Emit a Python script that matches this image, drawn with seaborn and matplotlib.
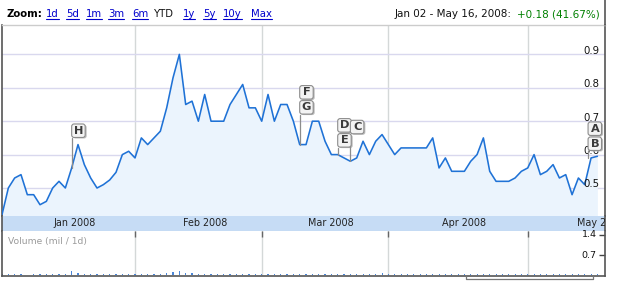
import matplotlib
matplotlib.use("Agg")
import matplotlib.pyplot as plt
import matplotlib.transforms as mtrans
from matplotlib.patches import FancyBboxPatch
from matplotlib.lines import Line2D
import numpy as np
import pandas as pd
import seaborn as sns

# ---------------- data (daily closes, trading days Jan 02 - May 16, 2008) ----------------
close_jan = [0.42, 0.50, 0.53, 0.54, 0.48, 0.48, 0.45, 0.46, 0.50, 0.52, 0.50,
             0.56, 0.63, 0.57, 0.53, 0.50, 0.51, 0.524, 0.547, 0.60, 0.61]
close_feb = [0.59, 0.65, 0.63, 0.65, 0.67, 0.74, 0.83, 0.90, 0.75, 0.76,
             0.70, 0.78, 0.70, 0.70, 0.70, 0.75, 0.78, 0.81, 0.74, 0.74]
close_mar = [0.70, 0.78, 0.70, 0.75, 0.75, 0.70, 0.63, 0.63, 0.70, 0.70,
             0.64, 0.60, 0.60, 0.59, 0.58, 0.59, 0.64, 0.60, 0.64, 0.66]
close_apr = [0.63, 0.60, 0.62, 0.62, 0.62, 0.62, 0.62, 0.65, 0.56, 0.59, 0.55,
             0.55, 0.55, 0.58, 0.60, 0.65, 0.55, 0.52, 0.52, 0.52, 0.53, 0.55]
close_may = [0.56, 0.60, 0.54, 0.55, 0.57, 0.53, 0.54, 0.48, 0.53, 0.51, 0.59, 0.595]

vol_jan = [0.05, 0.04, 0.05, 0.04, 0.03, 0.05, 0.04, 0.04, 0.05, 0.06, 0.05,
           0.15, 0.09, 0.05, 0.04, 0.04, 0.05, 0.04, 0.05, 0.06, 0.05]
vol_feb = [0.04, 0.05, 0.04, 0.05, 0.06, 0.10, 0.12, 0.14, 0.09, 0.08,
           0.05, 0.04, 0.04, 0.04, 0.04, 0.05, 0.04, 0.04, 0.04, 0.04]
vol_mar = [0.04, 0.04, 0.04, 0.04, 0.04, 0.04, 0.05, 0.04, 0.04, 0.04,
           0.04, 0.06, 0.04, 0.05, 0.04, 0.04, 0.04, 0.04, 0.04, 0.07]
vol_apr = [0.04, 0.04, 0.04, 0.04, 0.04, 0.04, 0.04, 0.05, 0.04, 0.04, 0.04,
           0.04, 0.04, 0.04, 0.04, 0.05, 0.04, 0.04, 0.04, 0.04, 0.04, 0.04]
vol_may = [0.04, 0.04, 0.04, 0.04, 0.05, 0.04, 0.04, 0.04, 0.04, 0.04, 0.04, 0.05]

month_labels = ["Jan 2008", "Feb 2008", "Mar 2008", "Apr 2008", "May 2008"]
month_full_days = [21, 20, 20, 22, 21]

price_ticks = [0.5, 0.6, 0.7, 0.8, 0.9]
volume_ticks = [0.7, 1.4]

flag_letters = [["H"], ["F", "G"], ["D", "E"], ["C"], ["A", "B"]]
flag_day = [11, 47, 53, 55, 93]

zoom_links = ["1d", "5d", "1m", "3m", "6m", "YTD", "1y", "5y", "10y", "Max"]
range_text = "Jan 02 - May 16, 2008:"
change_text = "+0.18 (41.67%)"

# ---------------- styling ----------------
sns.set_style("white")
plt.rcParams['font.family'] = ['DejaVu Sans']

LINE = "#1f72d6"
FILL = "#ebf4fd"
HGRID = "#d9d8ee"
VGRID = "#d4d8d8"
BAND = "#c6dcf5"
DARK = "#555555"

W, H = 630, 300
fig = plt.figure(figsize=(6.3, 3.0), dpi=100)
fig.patch.set_facecolor("white")


def fbox(x0, y0, x1, y1):
    return [x0 / W, 1 - y1 / H, (x1 - x0) / W, (y1 - y0) / H]


ax = fig.add_axes(fbox(2, 25, 605, 216))
band = fig.add_axes(fbox(2, 216, 605, 231))
axv = fig.add_axes(fbox(2, 231, 605, 276))

close = close_jan + close_feb + close_mar + close_apr + close_may
volume = vol_jan + vol_feb + vol_mar + vol_apr + vol_may
month_days = [len(close_jan), len(close_feb), len(close_mar), len(close_apr), len(close_may)]
df = pd.DataFrame({"day": np.arange(len(close)), "close": close, "volume": volume})

month_start = list(np.cumsum([0] + month_days[:-1]))
label_pos = [s + f / 2 + 1 for s, f in zip(month_start, month_full_days)]

XMAX = 95.2
YMIN, YMAX = 0.4162, 0.988

# ---- main price panel ----
ax.fill_between(df["day"], df["close"], YMIN - 0.1, color=FILL, lw=0, zorder=1)
sns.lineplot(data=df, x="day", y="close", ax=ax, color=LINE, lw=1.15, zorder=3)
ax.set_xlim(0, XMAX)
ax.set_ylim(YMIN, YMAX)
ax.set_yticks(price_ticks)
ax.set_xticks(month_start[1:])
ax.grid(axis="y", color=HGRID, lw=1.0, zorder=0)
ax.grid(axis="x", color=VGRID, lw=1.0, zorder=0)
ax.set_axisbelow(True)
ax.tick_params(axis="x", direction="in", length=4, width=1, color="#666666",
               labelbottom=False, bottom=True)
ax.tick_params(axis="y", left=False, right=False, labelleft=False)
ax.set_xlabel("")
ax.set_ylabel("")
for s in ["left", "right"]:
    ax.spines[s].set_color(DARK)
    ax.spines[s].set_linewidth(1.2)
ax.spines["top"].set_color("#cccccc")
ax.spines["top"].set_linewidth(1.0)
ax.spines["bottom"].set_visible(False)

trans_ylab = mtrans.blended_transform_factory(ax.transAxes, ax.transData)
for v in price_ticks:
    ax.text(0.9915, v + 0.002, f"{v:.1f}", transform=trans_ylab, ha="right",
            va="baseline", fontsize=7.3, color="#111111", zorder=4)

# ---- month band ----
band.set_facecolor(BAND)
band.set_xlim(0, XMAX)
band.set_ylim(0, 1)
band.set_xticks([])
band.set_yticks([])
for s in ["left", "right"]:
    band.spines[s].set_color(DARK)
    band.spines[s].set_linewidth(1.2)
band.spines["top"].set_visible(False)
band.spines["bottom"].set_color("#b9cde6")
band.spines["bottom"].set_linewidth(0.8)
for lab, pos in zip(month_labels, label_pos):
    band.text(pos, 0.5, lab, ha="center", va="center", fontsize=6.9,
              color="#222222", clip_on=True)

# ---- volume panel ----
axv.bar(df["day"], df["volume"], width=0.17, color="#4a86d8", lw=0, zorder=2)
axv.set_xlim(0, XMAX)
axv.set_ylim(-0.02, 1.53)
axv.set_xticks(month_start[1:])
axv.set_yticks(volume_ticks)
axv.grid(axis="x", color=VGRID, lw=1.0, zorder=0)
axv.grid(axis="y", visible=False)
axv.tick_params(axis="x", direction="in", length=4, width=1, color="#666666",
                bottom=False, top=True, labelbottom=False, labeltop=False)
axv.tick_params(axis="y", direction="in", length=4, width=1, color="#444444",
                left=False, right=True, labelleft=False, labelright=False)
for s in ["left", "right", "bottom"]:
    axv.spines[s].set_color(DARK)
    axv.spines[s].set_linewidth(1.2)
axv.spines["top"].set_visible(False)
trans_vlab = mtrans.blended_transform_factory(axv.transAxes, axv.transData)
for v in volume_ticks:
    axv.text(0.986, v, f"{v:.1f}", transform=trans_vlab, ha="right",
             va="center", fontsize=6.8, color="#111111")
axv.text(6 / 603, 0.77, "Volume (mil / 1d)", transform=axv.transAxes, ha="left",
         va="center", fontsize=6.6, color="#9a9a9a")

# ---- frame pieces outside axes ----
fig.add_artist(Line2D([605.4 / W, 605.4 / W], [1 - 0 / H, 1 - 25 / H],
                      transform=fig.transFigure, color=DARK, lw=1.2))
fig.add_artist(Line2D([466 / W, 466 / W, 593 / W, 593 / W],
                      [1 - 276 / H, 1 - 278.5 / H, 1 - 278.5 / H, 1 - 276 / H],
                      transform=fig.transFigure, color="#777777", lw=0.9))

# ---- header ----
YB = 1 - 17.4 / H
HFS = 7.3
fig.text(6 / W, YB, "Zoom:", fontsize=7.3, fontweight="bold", color="black",
         va="baseline", ha="left")
link_x = [46, 66, 86, 108, 132, 154, 183, 203, 223, 251]
link_texts = []
for lab, x in zip(zoom_links, link_x):
    col = "#111111" if lab == "YTD" else "#0000cc"
    t = fig.text(x / W, YB, lab, fontsize=HFS, color=col, va="baseline", ha="left")
    link_texts.append((lab, t))
fig.text(512 / W, YB, range_text, fontsize=7.5, color="#111111", va="baseline", ha="right")
fig.text(600 / W, YB, change_text, fontsize=7.5, color="#008000", va="baseline", ha="right")

fig.canvas.draw()
renderer = fig.canvas.get_renderer()
for lab, t in link_texts:
    if lab == "YTD":
        continue
    bb = t.get_window_extent(renderer)
    fig.add_artist(Line2D([bb.x0, bb.x1], [H - 18.8, H - 18.8],
                          transform=mtrans.IdentityTransform(), color="#0000cc", lw=0.8))

# ---- event flags ----
ident = mtrans.IdentityTransform()
flag_gap = [30, 30, 7, 27, 7]
flag_dx = [0, 0, 0, 0, -3]
BW, BH = 15, 15
for letters, day, gap, dx in zip(flag_letters, flag_day, flag_gap, flag_dx):
    px, py = ax.transData.transform((day, close[day]))
    x0 = px + dx
    bottom = py + gap
    fig.add_artist(Line2D([x0, x0], [py, bottom], transform=ident,
                          color="#8c8c8c", lw=0.9, zorder=5))
    for k, letter in enumerate(reversed(letters)):
        yb = bottom + k * BH
        shadow = FancyBboxPatch((x0 + 1.5, yb - 0.5), BW - 1.5, BH - 1.5,
                                boxstyle="round,pad=0,rounding_size=2.5",
                                fc="#bdbdbd", ec="none", transform=ident, zorder=5)
        box = FancyBboxPatch((x0, yb + 0.5), BW - 1.5, BH - 1.5,
                             boxstyle="round,pad=0,rounding_size=2.5",
                             fc="#f3f3f3", ec="#8c8c8c", lw=0.8,
                             transform=ident, zorder=6)
        fig.add_artist(shadow)
        fig.add_artist(box)
        fig.text(x0 + (BW - 1.5) / 2, yb + 0.5 + (BH - 1.5) / 2, letter,
                 transform=ident, ha="center", va="center", fontsize=8.2,
                 fontweight="bold", color="#3a3a3a", zorder=7)

fig.savefig("out.png", dpi=100, facecolor="white")
